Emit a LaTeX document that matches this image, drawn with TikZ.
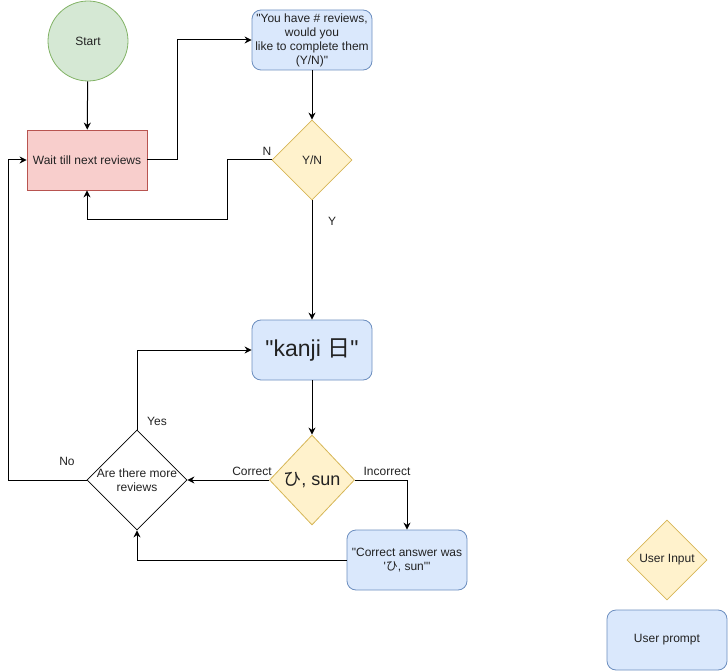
\documentclass[tikz,border=0pt]{standalone}
\usepackage{fontspec}
\setmainfont{Liberation Sans}[Ligatures=TeXOff]
\newfontfamily\jpfont{Noto Sans CJK JP}
\usepackage{tikz}
\usetikzlibrary{arrows.meta,shapes.geometric,positioning}
\usepackage{xcolor}
\definecolor{startfill}{HTML}{D5E8D4}
\definecolor{startline}{HTML}{82B366}
\definecolor{waitfill}{HTML}{F8CECC}
\definecolor{waitline}{HTML}{B85450}
\definecolor{promptfill}{HTML}{DAE8FC}
\definecolor{promptline}{HTML}{6C8EBF}
\definecolor{inputfill}{HTML}{FFF2CC}
\definecolor{inputline}{HTML}{D6B656}
\definecolor{txt}{HTML}{222222}
\tikzstyle{arrow} = [line width=1pt,->,>={Stealth[length=7pt,width=7pt]},color=black]
\tikzstyle{startnode} = [circle, minimum size=80pt, inner sep=0pt, draw=startline, fill=startfill, line width=0.8pt, font=\fontsize{12}{14}\selectfont, text=txt]
\tikzstyle{waitbox} = [rectangle, minimum width=120pt, minimum height=60pt, draw=waitline, fill=waitfill, line width=0.8pt, font=\fontsize{12}{14}\selectfont, text=txt]
\tikzstyle{prompt} = [rectangle, rounded corners=9pt, minimum width=120pt, minimum height=60pt, inner sep=1pt, align=center, draw=promptline, fill=promptfill, line width=0.8pt, font=\fontsize{12}{14}\selectfont, text=txt]
\tikzstyle{userinput} = [diamond, minimum width=80pt, minimum height=80pt, inner sep=0pt, draw=inputline, fill=inputfill, line width=0.8pt, font=\fontsize{12}{14}\selectfont, text=txt]
\tikzstyle{edgelabel} = [inner sep=0pt, font=\fontsize{12}{14}\selectfont, text=txt]

\begin{document}
\begin{tikzpicture}[x=1pt, y=-1pt]
    \useasboundingbox (0,0) rectangle (728,671);

    % Start and waiting state
    \node[startnode] (start) at (88,41) {Start};
    \node[waitbox] (wait) at (87,160) {Wait till next reviews};

    % First prompt and answer
    \node[prompt] (ask) at (312,40) {"You have \# reviews,\\would you\\like to complete them\\(Y/N)"};
    \node[userinput] (yn) at (312,160) {Y/N};

    % Review loop
    \node[prompt, font=\fontsize{23}{27}\selectfont] (kanji) at (312,350) {"kanji {\jpfont 日}"};
    \node[userinput, minimum width=85pt, minimum height=90pt, font=\fontsize{18}{21}\selectfont] (answer) at (312,480) {{\jpfont ひ}, sun};
    \node[prompt] (wrong) at (407,560) {"Correct answer was\\'{\jpfont ひ}, sun'"};
    \node[diamond, minimum width=100pt, minimum height=100pt, inner sep=0pt, draw, line width=0.8pt,
          label={[font=\fontsize{12}{14}\selectfont, text=txt, align=center]center:Are there more\\reviews}] (more) at (137,480) {};

    % Legend
    \node[userinput] (legendin) at (667,560) {User Input};
    \node[prompt] (legendout) at (667,640) {User prompt};

    % Arrows
    \draw[arrow] (start) -- (wait);
    \draw[arrow] (wait.east) -- (177,160) |- (ask.west);
    \draw[arrow] (ask) -- (yn);
    \draw[arrow] (yn.west) -- (227,160) -- (227,220) -| (wait.south);
    \draw[arrow] (yn) -- (kanji);
    \draw[arrow] (kanji) -- (answer);
    \draw[arrow] (answer.west) -- (more.east);
    \draw[arrow] (answer.east) -| (wrong.north);
    \draw[arrow] (wrong.west) -| (more.south);
    \draw[arrow] (more.north) |- (kanji.west);
    \draw[arrow] (more.west) -- (8,480) |- (wait.west);

    % Edge labels
    \node[edgelabel] (lblN) at (267,151) {N};
    \node[edgelabel] (lblY) at (332,221) {Y};
    \node[edgelabel] (lblcorrect) at (252,471) {Correct};
    \node[edgelabel] (lblincorrect) at (387,471) {Incorrect};
    \node[edgelabel] (lblyes) at (157,421) {Yes};
    \node[edgelabel] (lblno) at (67,461) {No};
\end{tikzpicture}
\end{document}
